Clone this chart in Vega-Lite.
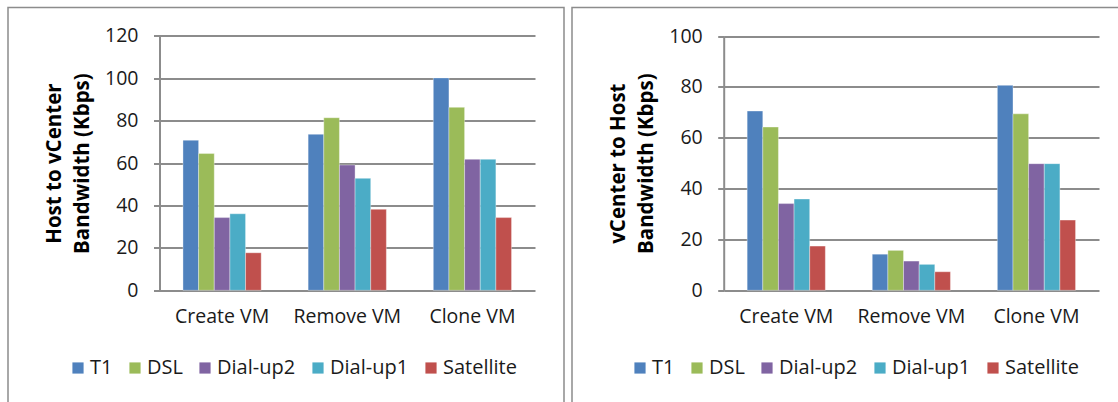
{
  "$schema": "https://vega.github.io/schema/vega-lite/v6.json",
  "padding": {"left": 7, "top": 6.5, "right": 0, "bottom": 0},
  "bounds": "flush",
  "spacing": 8,
  "datasets": {
    "hostToVcenter": [
      {"op": "Create VM", "series": "T1", "value": 70.8},
      {"op": "Create VM", "series": "DSL", "value": 64.5},
      {"op": "Create VM", "series": "Dial-up2", "value": 34.3},
      {"op": "Create VM", "series": "Dial-up1", "value": 36.1},
      {"op": "Create VM", "series": "Satellite", "value": 17.7},
      {"op": "Remove VM", "series": "T1", "value": 73.6},
      {"op": "Remove VM", "series": "DSL", "value": 81.4},
      {"op": "Remove VM", "series": "Dial-up2", "value": 59.1},
      {"op": "Remove VM", "series": "Dial-up1", "value": 52.8},
      {"op": "Remove VM", "series": "Satellite", "value": 38.2},
      {"op": "Clone VM", "series": "T1", "value": 100.2},
      {"op": "Clone VM", "series": "DSL", "value": 86.3},
      {"op": "Clone VM", "series": "Dial-up2", "value": 61.8},
      {"op": "Clone VM", "series": "Dial-up1", "value": 61.8},
      {"op": "Clone VM", "series": "Satellite", "value": 34.3}
    ],
    "vcenterToHost": [
      {"op": "Create VM", "series": "T1", "value": 70.5},
      {"op": "Create VM", "series": "DSL", "value": 64.2},
      {"op": "Create VM", "series": "Dial-up2", "value": 34.1},
      {"op": "Create VM", "series": "Dial-up1", "value": 35.9},
      {"op": "Create VM", "series": "Satellite", "value": 17.4},
      {"op": "Remove VM", "series": "T1", "value": 14.2},
      {"op": "Remove VM", "series": "DSL", "value": 15.7},
      {"op": "Remove VM", "series": "Dial-up2", "value": 11.5},
      {"op": "Remove VM", "series": "Dial-up1", "value": 10.2},
      {"op": "Remove VM", "series": "Satellite", "value": 7.3},
      {"op": "Clone VM", "series": "T1", "value": 80.6},
      {"op": "Clone VM", "series": "DSL", "value": 69.4},
      {"op": "Clone VM", "series": "Dial-up2", "value": 49.8},
      {"op": "Clone VM", "series": "Dial-up1", "value": 49.8},
      {"op": "Clone VM", "series": "Satellite", "value": 27.6}
    ]
  },
  "hconcat": [
    {
      "width": 556,
      "height": 410,
      "data": {"name": "hostToVcenter"},
      "mark": {"type": "bar", "stroke": "#ffffff", "strokeOpacity": 0.35, "strokeWidth": 1},
      "encoding": {
        "x": {
          "field": "op", "type": "nominal",
          "sort": ["Create VM", "Remove VM", "Clone VM"],
          "scale": {"range": [151.5, 527], "paddingInner": 0.375, "paddingOuter": 0.1875},
          "axis": {"title": null, "offset": -127.2, "domain": false, "ticks": false, "grid": false, "labelAngle": 0, "labelPadding": 17}
        },
        "xOffset": {
          "field": "series", "type": "nominal",
          "sort": ["T1", "DSL", "Dial-up2", "Dial-up1", "Satellite"],
          "scale": {"paddingInner": 0, "paddingOuter": 0}
        },
        "y": {
          "field": "value", "type": "quantitative",
          "scale": {"domain": [0, 120], "range": [282.8, 28.4], "nice": false},
          "axis": {
            "title": ["Host to vCenter", "Bandwidth (Kbps)"],
            "offset": -151.5,
            "values": [0, 20, 40, 60, 80, 100, 120]
          }
        },
        "color": {
          "field": "series", "type": "nominal",
          "sort": ["T1", "DSL", "Dial-up2", "Dial-up1", "Satellite"],
          "scale": {
            "domain": ["T1", "DSL", "Dial-up2", "Dial-up1", "Satellite"],
            "range": ["#4F81BD", "#9BBB59", "#8064A2", "#4BACC6", "#C0504D"]
          },
          "legend": {"orient": "none", "legendX": 60, "legendY": 350.5}
        }
      }
    },
    {
      "width": 560,
      "height": 410,
      "data": {"name": "vcenterToHost"},
      "mark": {"type": "bar", "stroke": "#ffffff", "strokeOpacity": 0.35, "strokeWidth": 1},
      "encoding": {
        "x": {
          "field": "op", "type": "nominal",
          "sort": ["Create VM", "Remove VM", "Clone VM"],
          "scale": {"range": [151.7, 527], "paddingInner": 0.375, "paddingOuter": 0.1875},
          "axis": {"title": null, "offset": -127.2, "domain": false, "ticks": false, "grid": false, "labelAngle": 0, "labelPadding": 17}
        },
        "xOffset": {
          "field": "series", "type": "nominal",
          "sort": ["T1", "DSL", "Dial-up2", "Dial-up1", "Satellite"],
          "scale": {"paddingInner": 0, "paddingOuter": 0}
        },
        "y": {
          "field": "value", "type": "quantitative",
          "scale": {"domain": [0, 100], "range": [282.8, 28.5], "nice": false},
          "axis": {
            "title": ["vCenter to Host", "Bandwidth (Kbps)"],
            "offset": -151.7,
            "values": [0, 20, 40, 60, 80, 100]
          }
        },
        "color": {
          "field": "series", "type": "nominal",
          "sort": ["T1", "DSL", "Dial-up2", "Dial-up1", "Satellite"],
          "scale": {
            "domain": ["T1", "DSL", "Dial-up2", "Dial-up1", "Satellite"],
            "range": ["#4F81BD", "#9BBB59", "#8064A2", "#4BACC6", "#C0504D"]
          },
          "legend": {"orient": "none", "legendX": 58, "legendY": 350.5}
        }
      }
    }
  ],
  "resolve": {
    "scale": {"x": "independent", "y": "independent", "xOffset": "independent", "color": "independent"},
    "legend": {"color": "independent"},
    "axis": {"x": "independent", "y": "independent"}
  },
  "config": {
    "font": "Open Sans",
    "view": {"stroke": "#8c8c8c", "strokeWidth": 1.5},
    "axis": {
      "labelFont": "Open Sans",
      "labelFontSize": 19.5,
      "labelColor": "#1a1a1a",
      "labelPadding": 15.5,
      "titleFont": "Open Sans",
      "titleFontSize": 20.5,
      "titleFontWeight": "bold",
      "titleColor": "#000000",
      "titleLineHeight": 28,
      "titlePadding": 12,
      "domainColor": "#8c8c8c",
      "domainWidth": 2,
      "tickColor": "#8c8c8c",
      "tickWidth": 2,
      "tickSize": 6,
      "gridColor": "#8c8c8c",
      "gridWidth": 2,
      "gridOpacity": 1
    },
    "legend": {
      "title": null,
      "direction": "horizontal",
      "padding": 0,
      "labelFont": "Open Sans",
      "labelFontSize": 20,
      "labelColor": "#1a1a1a",
      "labelOffset": 2,
      "columnPadding": 12,
      "symbolType": "square",
      "symbolSize": 125,
      "symbolStrokeWidth": 0,
      "symbolOpacity": 1
    }
  }
}
